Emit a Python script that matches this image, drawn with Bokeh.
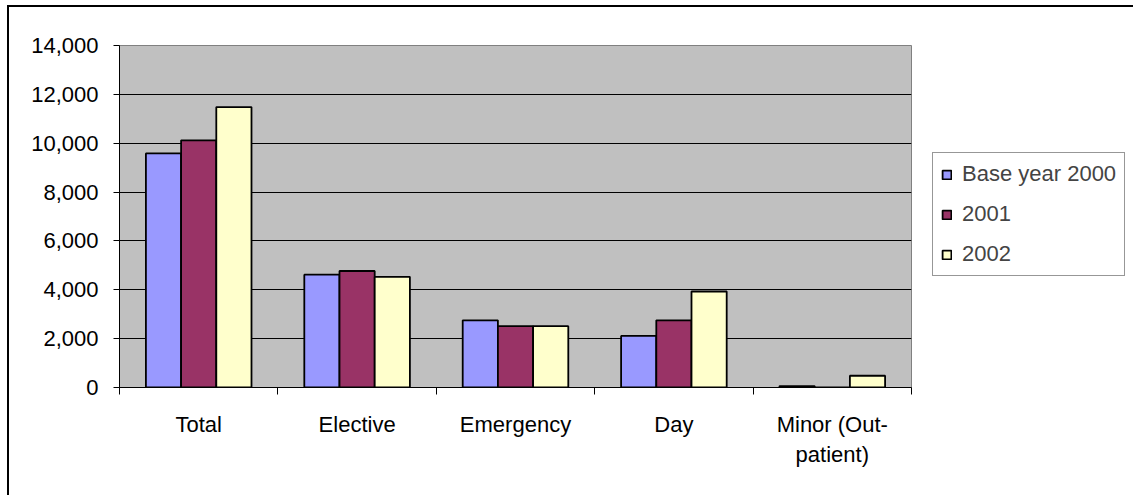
from bokeh.plotting import figure
from bokeh.models import (ColumnDataSource, Range1d, LinearAxis,
                          FixedTicker, NumeralTickFormatter, Legend, LegendItem)
from bokeh.transform import dodge
from bokeh.embed import file_html
from bokeh.resources import INLINE

categories = ["Total", "Elective", "Emergency", "Day", "Minor (Out-\npatient)"]
series_names = ["Base year 2000", "2001", "2002"]
base_2000 = [9580, 4620, 2750, 2110, 60]
y_2001 = [10120, 4770, 2510, 2750, 0]
y_2002 = [11480, 4530, 2510, 3930, 480]
y_ticks = [0, 2000, 4000, 6000, 8000, 10000, 12000, 14000]

colors = ["#9999FF", "#993366", "#FFFFCC"]
FONT = "Liberation Sans"
FS = "22px"

n = len(categories)
centers = [i + 0.5 for i in range(n)]
src = ColumnDataSource(dict(xc=centers, s0=base_2000, s1=y_2001, s2=y_2002))

p = figure(x_range=Range1d(0, n), y_range=Range1d(0, 14000),
           frame_width=792, frame_height=342,
           min_border_left=110, min_border_top=38, min_border_right=220, min_border_bottom=108,
           output_backend="svg", toolbar_location=None, x_axis_location=None)
p.styles = {"border-left": "2px solid black", "border-top": "2px solid black",
            "margin-left": "7px", "margin-top": "5px"}

p.background_fill_color = "#C0C0C0"
p.border_fill_color = "white"
p.outline_line_color = "#808080"
p.outline_line_width = 1

bw = 0.2222
renderers = []
for i, col in enumerate(["s0", "s1", "s2"]):
    r = p.vbar(x=dodge("xc", (i - 1) * bw), top=col, width=bw, bottom=0,
               source=src, fill_color=colors[i], line_color="black", line_width=1.8)
    renderers.append(r)

# y axis
ya = p.yaxis[0]
ya.ticker = FixedTicker(ticks=y_ticks)
ya.formatter = NumeralTickFormatter(format="0,0")
ya.major_label_text_font = FONT
ya.major_label_text_font_size = FS
ya.major_label_text_color = "black"
ya.axis_line_color = "black"
ya.major_tick_line_color = "black"
ya.major_tick_out = 6
ya.major_tick_in = 0
ya.minor_tick_line_color = None
ya.major_label_standoff = 15

p.ygrid.ticker = FixedTicker(ticks=y_ticks)
p.ygrid.grid_line_color = "black"
p.ygrid.grid_line_width = 1
p.xgrid.grid_line_color = None

# boundary ticks axis
bounds = list(range(n + 1))
ta = LinearAxis(ticker=FixedTicker(ticks=bounds),
                major_label_overrides={k: "" for k in bounds},
                major_label_text_font_size="0px", major_label_standoff=0,
                major_tick_out=7, major_tick_in=0, minor_tick_line_color=None,
                axis_line_color="black", major_tick_line_color="black")
p.add_layout(ta, "below")

ca = LinearAxis(ticker=FixedTicker(ticks=centers),
                major_label_overrides={c: lab for c, lab in zip(centers, categories)})
ca.axis_line_color = None
ca.major_tick_line_color = None
ca.minor_tick_line_color = None
ca.major_label_text_font = FONT
ca.major_label_text_font_size = FS
ca.major_label_text_color = "black"
ca.major_label_standoff = 11
p.add_layout(ca, "below")

items = [LegendItem(label=series_names[i], renderers=[renderers[i]]) for i in range(3)]
legend = Legend(items=items, location=(21, 111))
legend.label_text_font = FONT
legend.label_text_font_size = FS
legend.label_height = 22
legend.glyph_width = 11
legend.glyph_height = 11
legend.spacing = 14
legend.padding = 8
legend.margin = 0
legend.label_standoff = 10
legend.border_line_color = "#303030"
legend.border_line_width = 1
legend.background_fill_color = "white"
legend.background_fill_alpha = 1
p.add_layout(legend, "right")

open("out.html", "w").write(file_html(p, INLINE))
